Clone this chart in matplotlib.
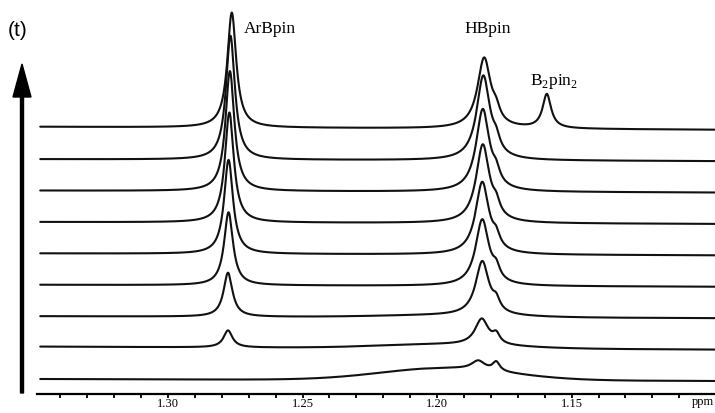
import numpy as np
import matplotlib
matplotlib.use("Agg")
import matplotlib.pyplot as plt

plt.rcParams['mathtext.fontset'] = 'custom'
plt.rcParams['mathtext.rm'] = 'Liberation Serif'

# peak positions (ppm)
ppm_arbpin = [1.2777, 1.2777, 1.2777, 1.2775, 1.2775, 1.2772, 1.2770, 1.2768, 1.2763]
ppm_hbpin = [1.1847, 1.1834, 1.1832, 1.1832, 1.1832, 1.1830, 1.1830, 1.1828, 1.1825]
ppm_shoulder = 1.1780
ppm_b2pin2 = 1.1592
ppm_hump = 1.197

# peak heights for each trace, bottom (t=0) to top
h_arbpin = [0, 17, 44, 73, 94, 110, 120, 124, 115]
h_hbpin = [9, 26, 54, 66, 72, 78, 82, 84, 70]
h_shoulder = [9, 9, 10, 11, 11, 11, 11, 11, 10]
h_b2pin2 = [0, 0, 0, 0, 0, 0, 0, 0, 34]
h_hump = [12, 4, 2, 0, 0, 0, 0, 0, 0]
drift = [2, 3, 2, 2, 2, 2, 2, 2, 3]

w_arbpin = 0.0020
w_hbpin = 0.0030
w_shoulder = 0.0016
w_b2pin2 = 0.0019
w_hump = 0.024

major_ticks = [1.30, 1.25, 1.20, 1.15]
tick_labels = ["1.30", "1.25", "1.20", "1.15"]


def lor(x, x0, h, g):
    return h * g ** 2 / ((x - x0) ** 2 + g ** 2)


x = np.linspace(1.0967, 1.3475, 3000)

fig = plt.figure(figsize=(7.15, 4.13), dpi=100)
ax = fig.add_axes([37 / 715, 19 / 413, 678 / 715, 394 / 413])

spacing = 31.4
for k in range(len(h_arbpin)):
    y = (k * spacing + 13
         + drift[k] * (x - 1.0967) / (1.3475 - 1.0967)
         + lor(x, ppm_arbpin[k], h_arbpin[k], w_arbpin)
         + lor(x, ppm_hbpin[k], h_hbpin[k], w_hbpin)
         + lor(x, ppm_shoulder, h_shoulder[k], w_shoulder)
         + lor(x, ppm_b2pin2, h_b2pin2[k], w_b2pin2)
         + h_hump[k] * np.exp(-0.5 * ((x - ppm_hump) / w_hump) ** 2))
    ax.plot(x, y, color='#111111', lw=1.5, solid_capstyle='round')

ax.set_xlim(1.3487, 1.0967)
ax.set_ylim(0, 394)
for s in ['top', 'right', 'left']:
    ax.spines[s].set_visible(False)
ax.spines['bottom'].set_linewidth(1.6)
ax.set_yticks([])
ax.set_xticks(major_ticks)
ax.set_xticklabels(tick_labels, family='Liberation Serif', fontsize=9)
ax.set_xticks(np.arange(1.11, 1.345, 0.01), minor=True)
ax.tick_params(axis='x', which='both', direction='out', length=3, width=1.3, pad=0)
ax.patch.set_alpha(0)

ax.text(1.2717, 365, 'ArBpin', family='Liberation Serif', fontsize=12.5, va='center', ha='left')
ax.text(1.1812, 365, 'HBpin', family='Liberation Serif', fontsize=12.5, va='center', ha='center')
ax.text(1.1565, 313, r'B$_\mathrm{2}$pin$_\mathrm{2}$', family='Liberation Serif', fontsize=12.5,
        va='center', ha='center')
fig.text(703 / 715, 1 - 402 / 413, 'ppm', family='Liberation Serif', fontsize=9, ha='center', va='center')

fig.text(8 / 715, 1 - 30 / 413, '(t)', family='Liberation Sans', fontsize=15, ha='left', va='center')
fig.patches.append(matplotlib.patches.FancyArrow(
    22 / 715, 1 - 393 / 413, 0, (393 - 64) / 413, width=3 / 715, head_width=18 / 715,
    head_length=33 / 413, length_includes_head=True, color='black', transform=fig.transFigure))

fig.savefig('out.png', dpi=100)
